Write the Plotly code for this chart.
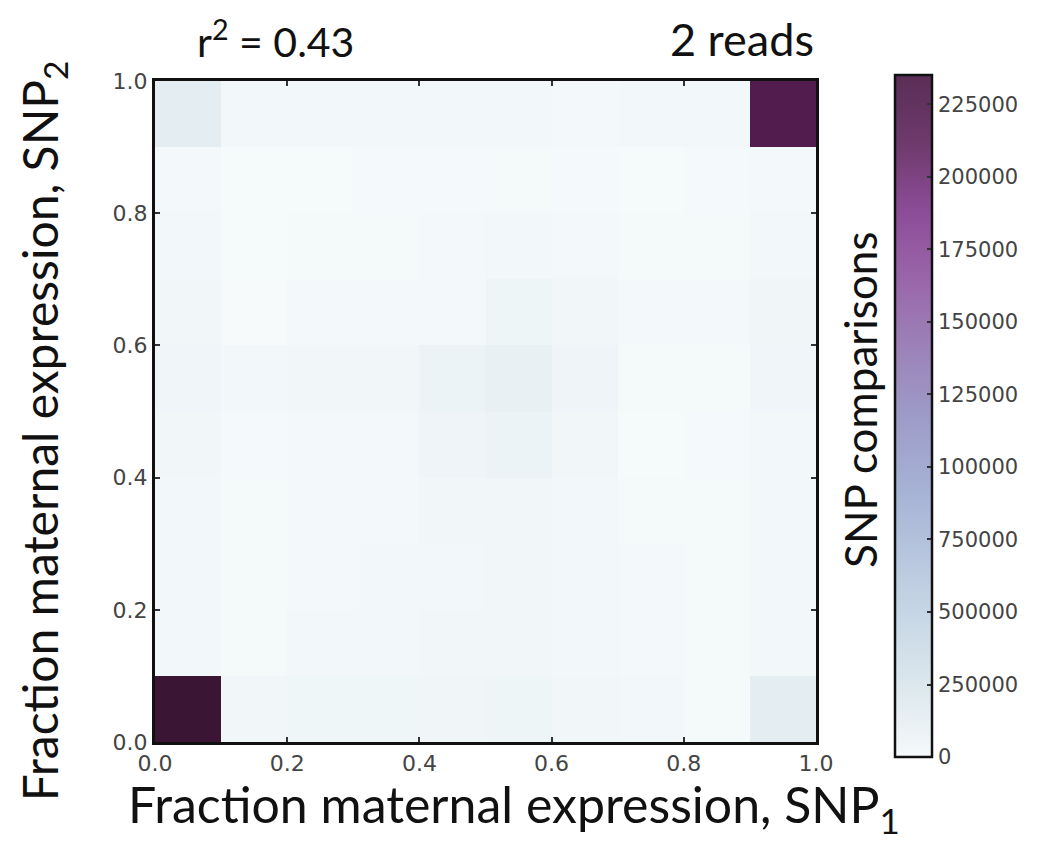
import plotly.graph_objects as go

# Bin centres of the 10 x 10 grid (fraction maternal expression)
x_centers = [0.05, 0.15, 0.25, 0.35, 0.45, 0.55, 0.65, 0.75, 0.85, 0.95]
y_centers = [0.05, 0.15, 0.25, 0.35, 0.45, 0.55, 0.65, 0.75, 0.85, 0.95]

# SNP comparison counts, one row per SNP2 bin (bottom row first)
row_00 = [235000, 7000, 9000, 9000, 8500, 10500, 7500, 5500, 4000, 22000]
row_01 = [5500, 4000, 5500, 6000, 6500, 6500, 6000, 4500, 4000, 6000]
row_02 = [5500, 4000, 5000, 5500, 6000, 6500, 5500, 4500, 4000, 5500]
row_03 = [5500, 3500, 5000, 5000, 6500, 6500, 5500, 3500, 3500, 5500]
row_04 = [6500, 3000, 5000, 5000, 11000, 13000, 6500, 2500, 3000, 6000]
row_05 = [9500, 5500, 6500, 6500, 13000, 18000, 11000, 3500, 4000, 9500]
row_06 = [6500, 1500, 5000, 5000, 5000, 10000, 6500, 5000, 5000, 8000]
row_07 = [5500, 2000, 3500, 4000, 4500, 6000, 5000, 4000, 3500, 5500]
row_08 = [5000, 2500, 2500, 3000, 3000, 3500, 3000, 2500, 3000, 5000]
row_09 = [22000, 6000, 5500, 5500, 5500, 6000, 5000, 5500, 5500, 218000]
counts = [row_00, row_01, row_02, row_03, row_04,
          row_05, row_06, row_07, row_08, row_09]

axis_ticks = [0.0, 0.2, 0.4, 0.6, 0.8, 1.0]
axis_ticktext = ["0.0", "0.2", "0.4", "0.6", "0.8", "1.0"]

cbar_tickvals = [0, 25000, 50000, 75000, 100000, 125000,
                 150000, 175000, 200000, 225000]
cbar_ticktext = ["0", "250000", "500000", "750000", "100000", "125000",
                 "150000", "175000", "200000", "225000"]

c_max = 235000

# Cell colours (BuPu-like ramp)
bupu = [
    [0.0, "#f7fbfc"],
    [0.1, "#e3edf1"],
    [0.2, "#cddce8"],
    [0.3, "#b7c8df"],
    [0.4, "#a3afd2"],
    [0.5, "#9a92c2"],
    [0.6, "#9472b2"],
    [0.7, "#8c52a2"],
    [0.8, "#7a2e80"],
    [0.9, "#5c1f5a"],
    [1.0, "#3b1534"],
]

# Colour bar ramp is drawn translucent, so it reads a little paler
bupu_bar = [
    [0.0, "#f5f9fa"],
    [0.1, "#dde8ee"],
    [0.2, "#c9d8e6"],
    [0.3, "#b6c5dd"],
    [0.4, "#a5b0d4"],
    [0.5, "#9d9bc8"],
    [0.6, "#9c82b8"],
    [0.7, "#9a66aa"],
    [0.8, "#8c4c98"],
    [0.9, "#6e3a6c"],
    [1.0, "#5a2d56"],
]

fig = go.Figure()
fig.add_trace(go.Heatmap(
    x=x_centers,
    y=y_centers,
    z=counts,
    zmin=0,
    zmax=c_max,
    colorscale=bupu,
    showscale=False,
))

# Invisible copy of the grid that only carries the colour bar
fig.add_trace(go.Heatmap(
    x=x_centers,
    y=y_centers,
    z=counts,
    zmin=0,
    zmax=c_max,
    colorscale=bupu_bar,
    opacity=0,
    hoverinfo="skip",
    colorbar=dict(
        x=1.119, xanchor="left",
        y=0.493, yanchor="middle",
        len=1.032, lenmode="fraction",
        thickness=37, thicknessmode="pixels",
        outlinewidth=2.5, outlinecolor="#111111",
        tickmode="array",
        tickvals=cbar_tickvals,
        ticktext=cbar_ticktext,
        ticks="inside", ticklen=6, tickwidth=1.5, tickcolor="#333333",
        tickfont=dict(family="DejaVu Sans", size=21, color="#444444"),
        xpad=0, ypad=0,
    ),
))


def axis_style():
    return dict(
        range=[0, 1],
        tickmode="array",
        tickvals=axis_ticks,
        ticktext=axis_ticktext,
        ticks="inside",
        ticklen=5,
        tickwidth=1.5,
        tickcolor="#333333",
        showline=True,
        linewidth=3,
        linecolor="#111111",
        mirror="allticks",
        showgrid=False,
        zeroline=False,
        tickfont=dict(family="DejaVu Sans", size=22, color="#444444"),
    )


fig.add_annotation(
    text="Fraction maternal expression, SNP<sub>1</sub>",
    xref="paper", yref="paper", x=0.543, y=-0.045,
    xanchor="center", yanchor="top", showarrow=False,
    font=dict(family="Lato", size=50, color="#111111"),
)
fig.add_annotation(
    text="Fraction maternal expression, SNP<sub>2</sub>",
    xref="paper", yref="paper", x=-0.118, y=0.47,
    xanchor="right", yanchor="middle", textangle=-90,
    showarrow=False, font=dict(family="Lato", size=48, color="#111111"),
)
fig.add_annotation(
    text="SNP comparisons",
    xref="paper", yref="paper", x=1.11, y=0.517,
    xanchor="right", yanchor="middle", textangle=-90,
    showarrow=False, font=dict(family="Lato", size=44, color="#111111"),
)
fig.add_annotation(
    text="r<sup>2</sup> = 0.43",
    xref="paper", yref="paper", x=0.06, y=1.02,
    xanchor="left", yanchor="bottom", showarrow=False,
    font=dict(family="Lato", size=41, color="#111111"),
)
fig.add_annotation(
    text="2 reads",
    xref="paper", yref="paper", x=1.0, y=1.02,
    xanchor="right", yanchor="bottom", showarrow=False,
    font=dict(family="Lato", size=45, color="#111111"),
)

fig.update_layout(
    width=1037,
    height=845,
    margin=dict(l=155, r=219, t=81, b=103),
    paper_bgcolor="white",
    plot_bgcolor="white",
    xaxis=axis_style(),
    yaxis=axis_style(),
)

fig.write_html("out.html")
